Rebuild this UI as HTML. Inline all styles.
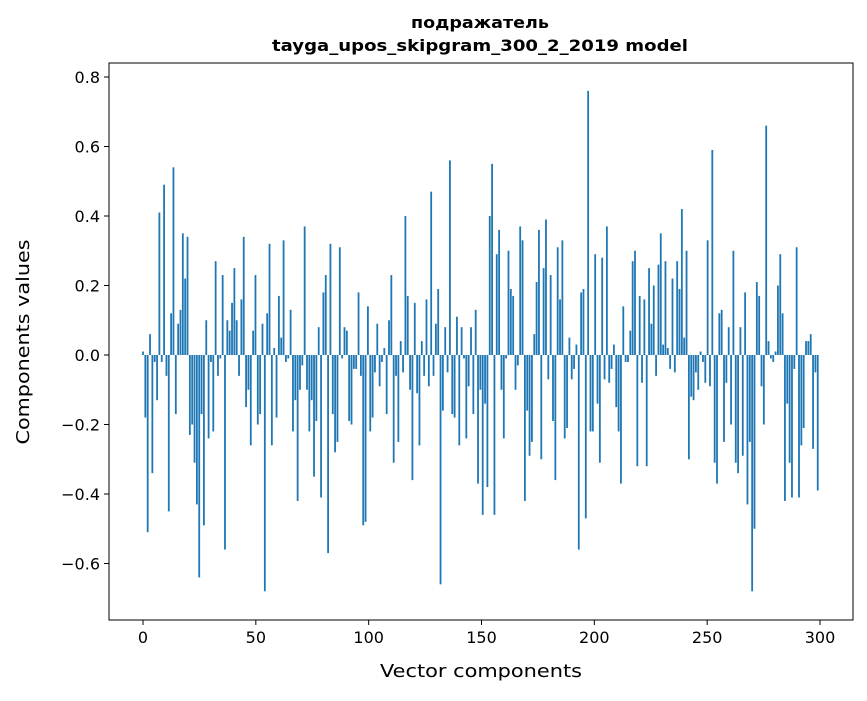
<!DOCTYPE html>
<html><head><meta charset="utf-8"><style>
body{margin:0;background:#fff;}
svg text{font-family:"DejaVu Sans","Liberation Sans",sans-serif;fill:#000;}
</style></head><body>
<svg id="chart" width="867" height="696" xmlns="http://www.w3.org/2000/svg">
<rect width="867" height="696" fill="#fff"/>
<text x="480" y="28" text-anchor="middle" font-size="16" font-weight="bold" textLength="138" lengthAdjust="spacingAndGlyphs">подражатель</text>
<text x="480" y="51" text-anchor="middle" font-size="16" font-weight="bold" textLength="416" lengthAdjust="spacingAndGlyphs">tayga_upos_skipgram_300_2_2019 model</text>
<g id="bars"></g>
<g id="axes"></g>
<rect x="109" y="63" width="744" height="557" fill="none" stroke="#000" stroke-width="1"/>
<text x="481" y="677" text-anchor="middle" font-size="18" textLength="202" lengthAdjust="spacingAndGlyphs">Vector components</text>
<text transform="translate(29,342) rotate(-90)" text-anchor="middle" font-size="18" textLength="205" lengthAdjust="spacingAndGlyphs">Components values</text>
</svg>
<script>
const values = [0.01,-0.18,-0.51,0.06,-0.34,-0.02,-0.13,0.41,-0.02,0.49,-0.06,-0.45,0.12,0.54,-0.17,0.09,0.13,0.35,0.22,0.34,-0.23,-0.2,-0.31,-0.43,-0.64,-0.17,-0.49,0.1,-0.24,-0.02,-0.22,0.27,-0.06,-0.01,0.23,-0.56,0.1,0.07,0.15,0.25,0.1,-0.06,0.16,0.34,-0.15,-0.1,-0.26,0.07,0.23,-0.2,-0.17,0.09,-0.68,0.12,0.32,-0.26,0.02,-0.18,0.17,0.05,0.33,-0.02,-0.01,0.13,-0.22,-0.13,-0.42,-0.1,-0.03,0.37,-0.1,-0.22,-0.13,-0.35,-0.19,0.08,-0.41,0.18,0.23,-0.57,0.32,-0.17,-0.28,-0.25,0.31,-0.01,0.08,0.07,-0.19,-0.2,-0.04,-0.04,0.18,-0.06,-0.49,-0.48,0.14,-0.22,-0.18,-0.05,0.09,-0.09,-0.02,0.02,-0.17,0.1,0.23,-0.31,-0.06,-0.25,0.04,-0.05,0.4,0.17,-0.1,-0.36,0.15,-0.11,-0.26,0.04,-0.06,0.16,-0.09,0.47,-0.06,0.09,0.19,-0.66,-0.16,0.08,-0.05,0.56,-0.17,-0.18,0.11,-0.26,0.08,-0.01,-0.24,-0.09,0.08,-0.17,0.13,-0.37,-0.1,-0.46,-0.14,-0.38,0.4,0.55,-0.46,0.29,0.36,-0.1,-0.24,-0.01,0.3,0.19,0.17,-0.1,-0.03,0.37,0.33,-0.42,-0.16,-0.29,-0.25,0.06,0.21,0.36,-0.3,0.25,0.39,-0.07,0.23,-0.19,-0.36,0.31,0.16,0.33,-0.24,-0.21,0.05,-0.07,-0.04,0.03,-0.56,0.18,0.19,-0.47,0.76,-0.22,-0.22,0.29,-0.14,-0.31,0.28,-0.07,0.37,-0.08,-0.04,0.03,-0.15,-0.22,-0.37,0.14,-0.02,-0.02,0.07,0.27,0.3,-0.32,0.17,-0.08,0.16,-0.32,0.25,0.09,0.2,-0.06,0.26,0.35,0.03,0.27,0.02,-0.04,0.22,-0.05,0.27,0.19,0.42,0.05,0.3,-0.3,-0.12,-0.13,-0.05,-0.1,0.01,-0.02,-0.08,0.33,-0.09,0.59,-0.31,-0.37,0.12,0.13,-0.25,-0.08,0.08,-0.2,0.3,-0.31,-0.34,0.08,-0.29,0.18,-0.43,-0.25,-0.68,-0.5,0.21,0.17,-0.09,-0.2,0.66,0.04,-0.01,-0.02,0.01,0.2,0.29,0.12,-0.42,-0.14,-0.31,-0.41,-0.04,0.31,-0.41,-0.26,-0.21,0.04,0.04,0.06,-0.27,-0.05,-0.39];
const xTicks = [0,50,100,150,200,250,300];
const yTicks = [-0.6,-0.4,-0.2,0.0,0.2,0.4,0.6,0.8];
const yTickLabels = ["\u22120.6","\u22120.4","\u22120.2","0.0","0.2","0.4","0.6","0.8"];

const NS="http://www.w3.org/2000/svg";
const n = 300;
function xs(i){ return 143 + i*(820-143)/300; }
function ys(v){ return 355 - v*347.5; }
const bars=document.getElementById('bars');
const step = (n-1)/(values.length-1);
values.forEach((v,k)=>{
  const i = k*step;
  const r=document.createElementNS(NS,'rect');
  
  
  const w=0.8*(820-143)/300;
  r.setAttribute('x',xs(i)-w/2);
  r.setAttribute('width',w);
  r.setAttribute('y',Math.min(ys(v),ys(0)));
  r.setAttribute('height',Math.abs(ys(v)-ys(0)));
  r.setAttribute('fill','#1f77b4');
  bars.appendChild(r);
});
const axes=document.getElementById('axes');
xTicks.forEach(t=>{
  const l=document.createElementNS(NS,'line');
  
  
  l.setAttribute('x1',xs(t));l.setAttribute('x2',xs(t));
  l.setAttribute('y1',620);l.setAttribute('y2',625);l.setAttribute('stroke','#000');
  axes.appendChild(l);
  const tx=document.createElementNS(NS,'text');
  
  
  tx.setAttribute('x',xs(t));tx.setAttribute('y',643);
  tx.setAttribute('text-anchor','middle');tx.setAttribute('font-size','16');
  tx.textContent=t;axes.appendChild(tx);
});
yTicks.forEach((t,k)=>{
  const l=document.createElementNS(NS,'line');
  
  
  l.setAttribute('x1',104);l.setAttribute('x2',109);
  l.setAttribute('y1',ys(t));l.setAttribute('y2',ys(t));l.setAttribute('stroke','#000');
  axes.appendChild(l);
  const tx=document.createElementNS(NS,'text');
  
  
  tx.setAttribute('x',100);tx.setAttribute('y',ys(t)+6);
  tx.setAttribute('text-anchor','end');tx.setAttribute('font-size','16');
  tx.textContent=yTickLabels[k];axes.appendChild(tx);
});
</script>
</body></html>
